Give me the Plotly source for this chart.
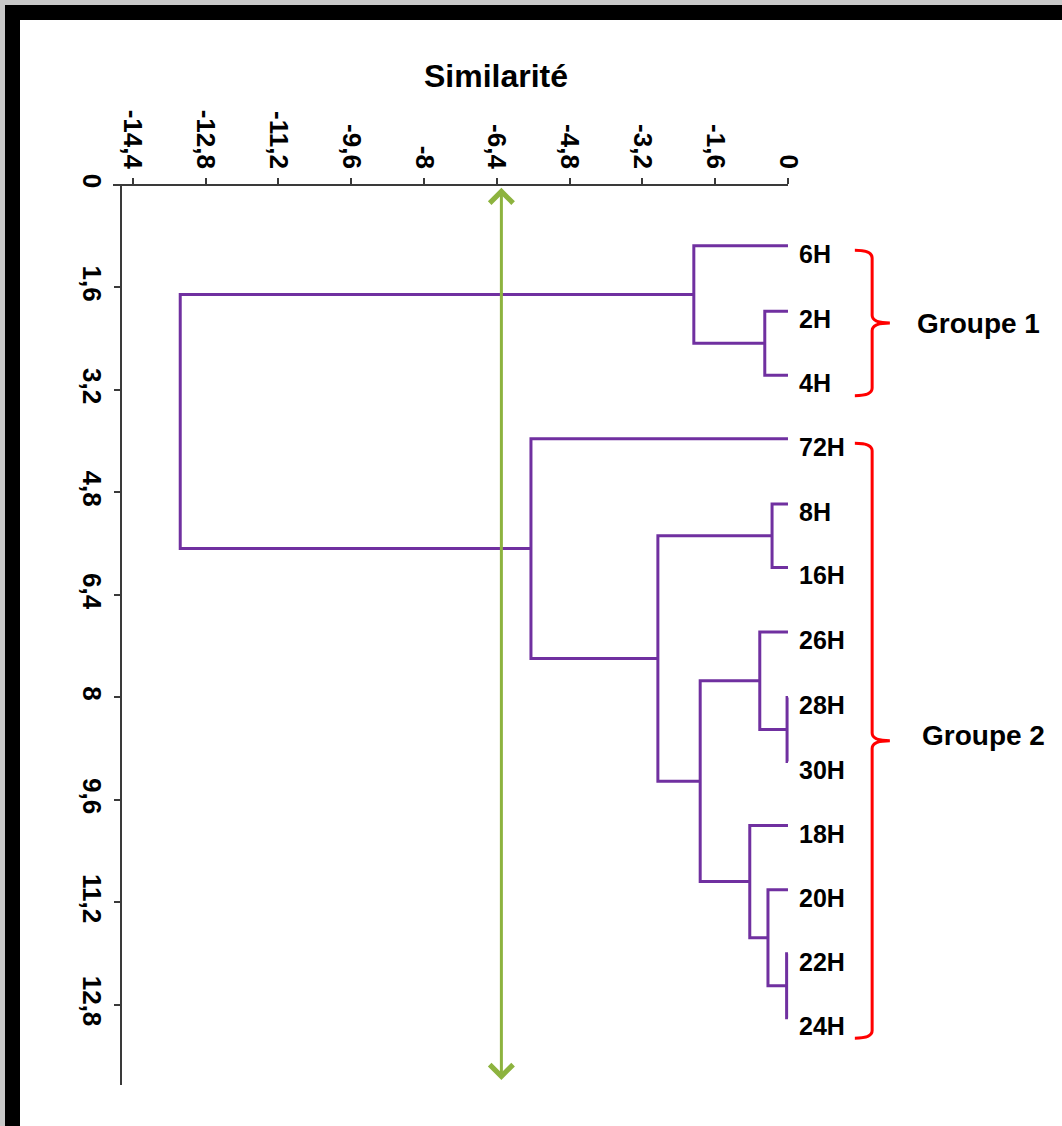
import plotly.graph_objects as go

# ---------------- data ----------------
leaf_labels = ["6H", "2H", "4H", "72H", "8H", "16H", "26H", "28H", "30H",
               "18H", "20H", "22H", "24H"]
leaf_pos = [0.95, 1.97, 2.97, 3.96, 4.98, 5.97, 6.98, 8.0, 9.0,
            10.0, 11.0, 12.0, 13.0]

# merges: (child a, child b, similarity level); nodes 0..12 are leaves, new nodes numbered from 13
merge_a = [1, 0, 7, 6, 11, 10, 9, 16, 4, 21, 3, 14]
merge_b = [2, 13, 8, 15, 12, 17, 18, 19, 5, 20, 22, 23]
merge_h = [-0.51, -2.07, -0.02, -0.62, -0.03, -0.44, -0.84, -1.93, -0.35, -2.86, -5.65, -13.36]

x_tickvals = [-14.4, -12.8, -11.2, -9.6, -8, -6.4, -4.8, -3.2, -1.6, 0]
x_ticktext = ["-14,4", "-12,8", "-11,2", "-9,6", "-8", "-6,4", "-4,8", "-3,2", "-1,6", "0"]
y_tickvals = [0, 1.6, 3.2, 4.8, 6.4, 8, 9.6, 11.2, 12.8]
y_ticktext = ["0", "1,6", "3,2", "4,8", "6,4", "8", "9,6", "11,2", "12,8"]

groups = ["Groupe 1", "Groupe 2"]
group_first = [0, 3]   # index of first leaf in group
group_last = [2, 12]   # index of last leaf in group

threshold = -6.3

# ---------------- build dendrogram segments ----------------
node_x = [0.0] * len(leaf_labels)
node_y = list(leaf_pos)
xs, ys = [], []
for a, b, h in zip(merge_a, merge_b, merge_h):
    xa, ya = node_x[a], node_y[a]
    xb, yb = node_x[b], node_y[b]
    xs += [xa, h, h, xb, None]
    ys += [ya, ya, yb, yb, None]
    node_x.append(h)
    node_y.append((ya + yb) / 2)

PURPLE = "#7030A0"
RED = "#FF0000"
GREEN = "#8DB33F"
AXIS = "#3a3a3a"
FONT = "Liberation Sans"

fig = go.Figure()
fig.add_trace(go.Scatter(x=xs, y=ys, mode="lines",
                         line=dict(color=PURPLE, width=3),
                         hoverinfo="skip", showlegend=False))

W, H = 1062, 1126
ML, MR, MT, MB = 122, 22, 185, 41
PW, PH = W - ML - MR, H - MT - MB

def px_x(px):
    return (px - ML) / PW

def px_y(py):
    return (H - MB - py) / PH

annotations = []
# leaf labels
for lab, yp in zip(leaf_labels, leaf_pos):
    annotations.append(dict(x=0.2, y=yp, xref="x", yref="y", text=lab,
                            showarrow=False, xanchor="left", yanchor="middle",
                            yshift=-8,
                            font=dict(family=FONT, size=25, color="black", weight="bold")))

shapes = []
# braces and group labels
bx0, bx1, bx2 = 1.47, 1.85, 2.24
c = 0.12
label_x = [2.8, 2.9]
label_dy = [0.0, -0.08]
for g, f, l, lx, dy in zip(groups, group_first, group_last, label_x, label_dy):
    y0 = leaf_pos[f] + 0.07
    y1 = leaf_pos[l] + 0.32
    ym = (y0 + y1) / 2
    path = (f"M {bx0},{y0} Q {bx1},{y0} {bx1},{y0 + c} L {bx1},{ym - c} "
            f"Q {bx1},{ym} {bx2},{ym} Q {bx1},{ym} {bx1},{ym + c} "
            f"L {bx1},{y1 - c} Q {bx1},{y1} {bx0},{y1}")
    shapes.append(dict(type="path", path=path, xref="x", yref="y",
                       line=dict(color=RED, width=3)))
    annotations.append(dict(x=lx, y=ym + dy, xref="x", yref="y", text=g,
                            showarrow=False, xanchor="left", yanchor="middle",
                            font=dict(family=FONT, size=28, color="black", weight="bold")))

# threshold double arrow
annotations.append(dict(x=threshold, y=13.97, ax=threshold, ay=0.02,
                        xref="x", yref="y", axref="x", ayref="y",
                        text="", showarrow=True, arrowhead=4, arrowside="end+start",
                        arrowsize=1.5, arrowwidth=3, arrowcolor=GREEN))

# title
annotations.append(dict(x=px_x(496), y=px_y(76), xref="paper", yref="paper",
                        text="Similarité", showarrow=False,
                        xanchor="center", yanchor="middle",
                        font=dict(family=FONT, size=32, color="black", weight="bold")))

# top axis line (only up to 0), slightly overhanging the vertical axis
shapes.append(dict(type="line", xref="paper", yref="paper", x0=px_x(113), x1=px_x(122),
                   y0=1, y1=1, line=dict(color=AXIS, width=2)))
shapes.append(dict(type="line", xref="x", yref="paper", x0=-14.64, x1=0, y0=1, y1=1,
                   line=dict(color=AXIS, width=2)))

# outer frame (black bands at top and left)
shapes.append(dict(type="rect", xref="paper", yref="paper",
                   x0=px_x(0), x1=px_x(W), y0=px_y(5), y1=px_y(0),
                   fillcolor="#c8c8c8", line=dict(width=0), layer="above"))
shapes.append(dict(type="rect", xref="paper", yref="paper",
                   x0=px_x(0), x1=px_x(5), y0=px_y(H), y1=px_y(0),
                   fillcolor="#c8c8c8", line=dict(width=0), layer="above"))
shapes.append(dict(type="rect", xref="paper", yref="paper",
                   x0=px_x(5), x1=px_x(W), y0=px_y(20), y1=px_y(5),
                   fillcolor="black", line=dict(width=0), layer="above"))
shapes.append(dict(type="rect", xref="paper", yref="paper",
                   x0=px_x(5), x1=px_x(20), y0=px_y(H), y1=px_y(5),
                   fillcolor="black", line=dict(width=0), layer="above"))

fig.update_layout(
    width=W, height=H,
    margin=dict(l=ML, r=MR, t=MT, b=MB, pad=0),
    paper_bgcolor="white", plot_bgcolor="white",
    showlegend=False,
    shapes=shapes, annotations=annotations,
    xaxis=dict(range=[-14.64, 5.54], side="top", showgrid=False, zeroline=False,
               showline=False, tickmode="array", tickvals=x_tickvals, ticktext=x_ticktext,
               ticks="outside", ticklen=6, tickwidth=2, tickcolor=AXIS, tickangle=90,
               tickfont=dict(family=FONT, size=26, color="black", weight="bold")),
    yaxis=dict(range=[14.05, 0], showgrid=False, zeroline=False,
               showline=True, linecolor=AXIS, linewidth=2,
               tickmode="array", tickvals=y_tickvals, ticktext=y_ticktext,
               ticks="outside", ticklen=6, tickwidth=2, tickcolor=AXIS, tickangle=90,
               tickfont=dict(family=FONT, size=26, color="black", weight="bold")),
)

fig.write_html("out.html")
